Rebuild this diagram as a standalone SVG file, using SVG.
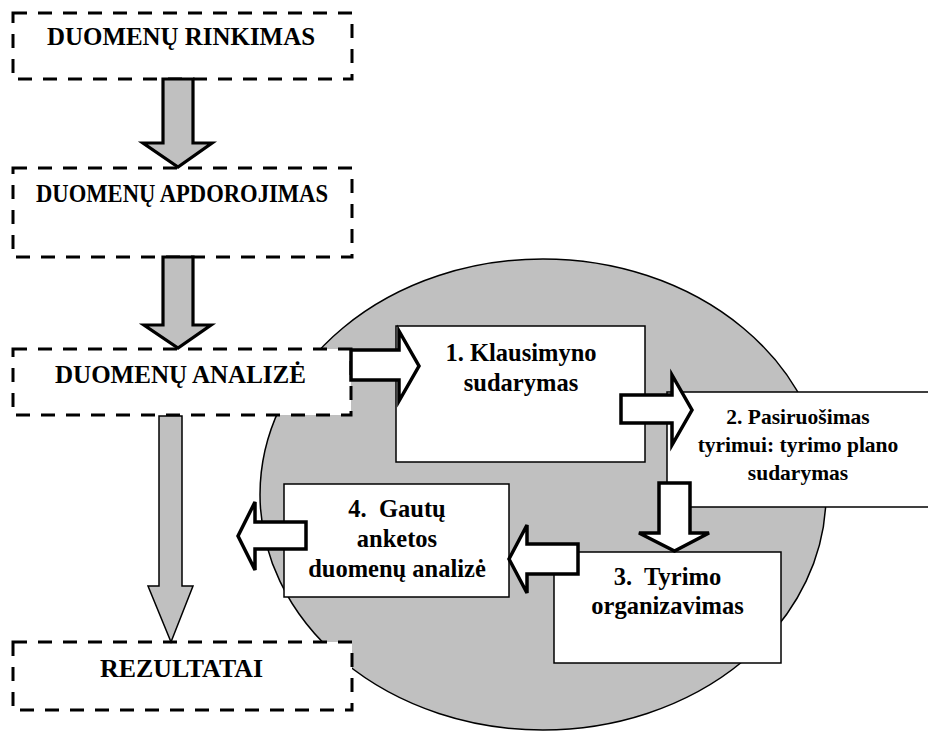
<svg xmlns="http://www.w3.org/2000/svg" width="928" height="731" viewBox="0 0 928 731">
  <style>
    .dash { fill: #ffffff; stroke: #000000; stroke-width: 3; stroke-dasharray: 14 11; }
    .box { fill: #ffffff; stroke: #000000; stroke-width: 1.5; }
    .garrow { fill: #c0c0c0; stroke: #000000; stroke-width: 3.2; stroke-linejoin: miter; }
    .garrow-thin { fill: #c0c0c0; stroke: #000000; stroke-width: 1.5; stroke-linejoin: miter; }
    .warrow { fill: #ffffff; stroke: #000000; stroke-width: 3.5; stroke-linejoin: miter; }
    text { font-family: 'Liberation Serif', 'Times New Roman', serif; font-weight: bold; fill: #000000; text-anchor: middle; }
    .big { font-size: 25px; }
    .mid { font-size: 24.5px; }
    .sml { font-size: 21.5px; }
  </style>

  <!-- background cycle disc -->
  <ellipse id="cycle" cx="543" cy="494.5" rx="283" ry="235.5" fill="#c0c0c0" stroke="#000000" stroke-width="1.5"/>

  <!-- left column: dashed stage boxes -->
  <g id="rinkimas">
    <rect class="dash" x="13" y="13" width="339" height="66"/>
    <text class="big" x="181" y="45" textLength="268" lengthAdjust="spacingAndGlyphs">DUOMENŲ RINKIMAS</text>
  </g>
  <g id="apdorojimas">
    <rect class="dash" x="13" y="168" width="339" height="89"/>
    <text class="big" x="182" y="202" textLength="292" lengthAdjust="spacingAndGlyphs">DUOMENŲ APDOROJIMAS</text>
  </g>
  <g id="analize">
    <rect class="dash" x="13" y="349" width="338" height="66"/>
    <text class="big" x="180.5" y="383" textLength="251" lengthAdjust="spacingAndGlyphs">DUOMENŲ ANALIZĖ</text>
  </g>
  <g id="rezultatai">
    <rect class="dash" x="13" y="642" width="339" height="68"/>
    <text class="big" x="181.5" y="677" textLength="163" lengthAdjust="spacingAndGlyphs">REZULTATAI</text>
  </g>

  <!-- cycle steps -->
  <g id="step1">
    <rect class="box" x="396" y="326" width="249" height="136"/>
    <text class="mid" x="521" y="361">1. Klausimyno</text>
    <text class="mid" x="521" y="391">sudarymas</text>
  </g>
  <g id="step2">
    <rect class="box" x="667" y="392" width="270" height="115"/>
    <text class="sml" x="798" y="424">2. Pasiruošimas</text>
    <text class="sml" x="798" y="452">tyrimui: tyrimo plano</text>
    <text class="sml" x="798" y="480">sudarymas</text>
  </g>
  <g id="step3">
    <rect class="box" x="554" y="552" width="227" height="111"/>
    <text class="mid" x="667.5" y="585">3.&#160; Tyrimo</text>
    <text class="mid" x="667.5" y="614">organizavimas</text>
  </g>
  <g id="step4">
    <rect class="box" x="284" y="484" width="225" height="113"/>
    <text class="mid" x="397" y="517">4.&#160; Gautų</text>
    <text class="mid" x="397" y="547">anketos</text>
    <text class="mid" x="397" y="577">duomenų analizė</text>
  </g>

  <!-- block arrows -->
  <g id="connectors">
    <polygon class="garrow" points="163,79 193,79 193,143 212,143 178,167 143,143 163,143"/>
    <polygon class="garrow" points="163,257 193,257 193,325 211,325 178,348 144,325 163,325"/>
    <polygon class="garrow-thin" points="159,416 182,416 182,586 193,586 171,642 148,586 159,586"/>
    <polygon class="warrow" points="351,350 399,350 399,331 419,366 399,401 399,380 351,380"/>
    <polygon class="warrow" points="621,395 672,395 672,375 692,410 672,445 672,423 621,423"/>
    <polygon class="warrow" points="659,483 690,483 690,533 709,533 674.5,551 639,533 659,533"/>
    <polygon class="warrow" points="578,544 527,544 527,525 509,559 527,593 527,574 578,574"/>
    <polygon class="warrow" points="306,522 255,522 255,502 238,536 255,570 255,549 306,549"/>
  </g>
</svg>
